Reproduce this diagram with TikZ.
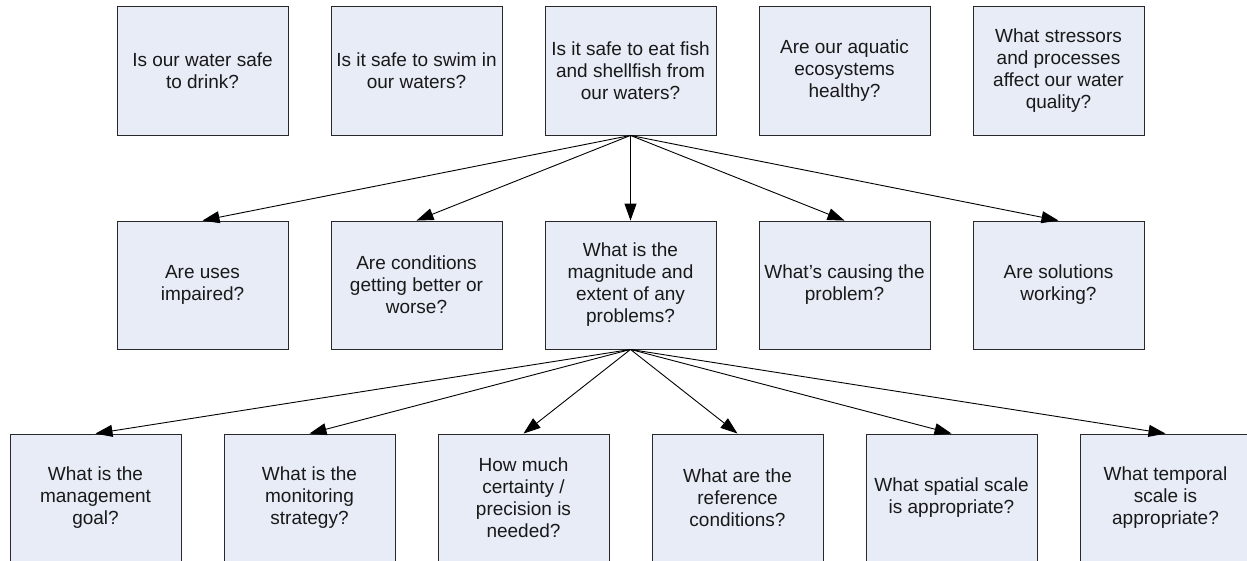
\documentclass[tikz,border=0pt]{standalone}
\usepackage{fontspec}
\setmainfont{Liberation Sans}
\usetikzlibrary{arrows.meta}
\definecolor{boxfill}{RGB}{231,236,246}
\definecolor{boxline}{RGB}{40,40,40}
\tikzset{
  qbox/.style={draw=boxline, fill=boxfill, line width=0.9pt, rectangle,
    minimum width=171pt, minimum height=129pt, inner sep=0pt, align=center,
    font=\fontsize{19}{22}\selectfont, text=black!90},
  qarrow/.style={draw=black, line width=0.9pt, -{Triangle[length=17pt,width=12pt]}}
}
\begin{document}
\begin{tikzpicture}[x=1pt,y=-1pt]
\useasboundingbox (0,0) rectangle (1247,560);
% top row
\node[qbox] (t1) at (202.5,70.5) {Is our water safe\\to drink?};
\node[qbox] (t2) at (416.5,70.5) {Is it safe to swim in\\our waters?};
\node[qbox] (t3) at (630.5,70.5) {Is it safe to eat fish\\and shellfish from\\our waters?};
\node[qbox] (t4) at (844.5,70.5) {Are our aquatic\\ecosystems\\healthy?};
\node[qbox] (t5) at (1058.5,70.5) {What stressors\\and processes\\affect our water\\quality?};
% middle row
\node[qbox,minimum height=128pt] (m1) at (202.5,285) {Are uses\\impaired?};
\node[qbox,minimum height=128pt] (m2) at (416.5,285) {Are conditions\\getting better or\\worse?};
\node[qbox,minimum height=128pt] (m3) at (630.5,285) {What is the\\magnitude and\\extent of any\\problems?};
\node[qbox,minimum height=128pt] (m4) at (844.5,285) {What’s causing the\\problem?};
\node[qbox,minimum height=128pt] (m5) at (1058.5,285) {Are solutions\\working?};
% bottom row
\node[qbox,minimum height=128pt] (b1) at (95.5,498) {What is the\\management\\goal?};
\node[qbox,minimum height=128pt] (b2) at (309.5,498) {What is the\\monitoring\\strategy?};
\node[qbox,minimum height=128pt] (b3) at (523.5,498) {How much\\certainty /\\precision is\\needed?};
\node[qbox,minimum height=128pt] (b4) at (737.5,498) {What are the\\reference\\conditions?};
\node[qbox,minimum height=128pt] (b5) at (951.5,498) {What spatial scale\\is appropriate?};
\node[qbox,minimum height=128pt] (b6) at (1165.5,498) {What temporal\\scale is\\appropriate?};
% arrows
\foreach \m in {m1,m2,m3,m4,m5} \draw[qarrow] (t3.south) -- (\m.north);
\foreach \b in {b1,b2,b3,b4,b5,b6} \draw[qarrow] (m3.south) -- (\b.north);
\end{tikzpicture}
\end{document}
